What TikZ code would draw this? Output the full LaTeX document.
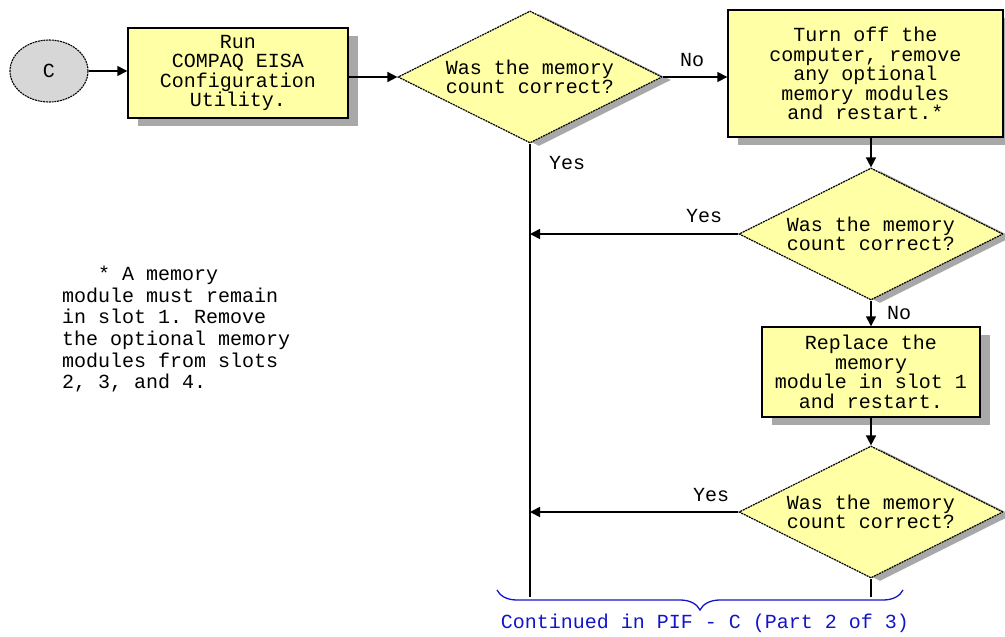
\documentclass[tikz,border=0pt]{standalone}
\usepackage{fontspec}
\newfontfamily\pixfont{Liberation Mono}
\usetikzlibrary{shapes.geometric,arrows.meta,shadows,decorations.pathreplacing}
\definecolor{boxfill}{RGB}{255,255,165}
\definecolor{shade}{RGB}{168,168,168}
\definecolor{ovalfill}{RGB}{215,215,215}
\definecolor{linkblue}{RGB}{20,20,200}
\begin{document}
\frenchspacing
\begin{tikzpicture}[x=1pt,y=-1pt,
  every node/.style={font=\pixfont\fontsize{20}{19.5}\selectfont},
  boxshadow/.style={drop shadow={shadow xshift=10pt,shadow yshift=-8pt,fill=shade,opacity=1}},
  diashadow/.style={drop shadow={shadow xshift=9pt,shadow yshift=-3pt,fill=shade,opacity=1}},
  procbox/.style={draw,line width=1.4pt,fill=boxfill,align=center,inner sep=0pt,boxshadow},
  decision/.style={diamond,draw,line width=1.2pt,dash pattern=on 2pt off 0.8pt,fill=boxfill,align=center,inner sep=0pt,aspect=2,minimum width=264pt,minimum height=132pt,diashadow},
  conn/.style={line width=1.6pt},
  arr/.style={conn,-{Triangle[length=10pt,width=10pt]}},
  lbl/.style={inner sep=0pt}]
\useasboundingbox (0,0) rectangle (1005,637);
\node[ellipse,draw,line width=1.1pt,dash pattern=on 2pt off 0.8pt,fill=ovalfill,minimum width=78pt,minimum height=62pt,inner sep=0pt] (start) at (49,71) {C};
\node[procbox,minimum width=220pt,minimum height=90pt] (b1) at (238,73) {Run\\COMPAQ EISA\\Configuration\\Utility.};
\node[decision] (d1) at (530,77) {Was the memory\\count correct?};
\node[procbox,minimum width=275pt,minimum height=127pt] (b2) at (865.5,73.5) {Turn off the\\computer, remove\\any optional\\memory modules\\and restart.*};
\node[decision] (d2) at (871,234) {Was the memory\\count correct?};
\node[procbox,minimum width=218pt,minimum height=90pt] (b3) at (871,372) {Replace the\\memory\\module in slot 1\\and restart.};
\node[decision] (d3) at (871,512) {Was the memory\\count correct?};
\coordinate (vend) at (530,597);
\coordinate (send) at (871,597);
\draw[arr] (start.east) -- (start.east -| b1.west);
\draw[arr] (b1.east |- d1.west) -- (d1.west);
\draw[arr] (d1.east) -- (d1.east -| b2.west);
\draw[arr] (b2.south -| d2.north) -- (d2.north);
\draw[arr] (d2.west) -- (d2.west -| d1.south);
\draw[arr] (d2.south) -- (b3.north);
\draw[arr] (b3.south) -- (d3.north);
\draw[arr] (d3.west) -- (d3.west -| d1.south);
\draw[conn] (d1.south) -- (vend);
\draw[conn] (d3.south) -- (send);
\node[lbl] (no1) at (692,60) {No};
\node[lbl] (yes1) at (567,163) {Yes};
\node[lbl] (yes2) at (704,216) {Yes};
\node[lbl] (no2) at (899,313) {No};
\node[lbl] (yes3) at (711,495) {Yes};
\node[lbl,anchor=north west,align=left,font=\pixfont\fontsize{20}{21.6}\selectfont] (note) at (62,266) {\hphantom{MMM}* A memory\\module must remain\\in slot 1. Remove\\the optional memory\\modules from slots\\2, 3, and 4.};
\draw[linkblue,line width=1.3pt,decorate,decoration={brace,amplitude=20pt,mirror}] (497,590) -- (903,590);
\node[lbl,text=linkblue] (cont) at (705,623) {Continued in PIF - C (Part 2 of 3)};
\end{tikzpicture}
\end{document}
